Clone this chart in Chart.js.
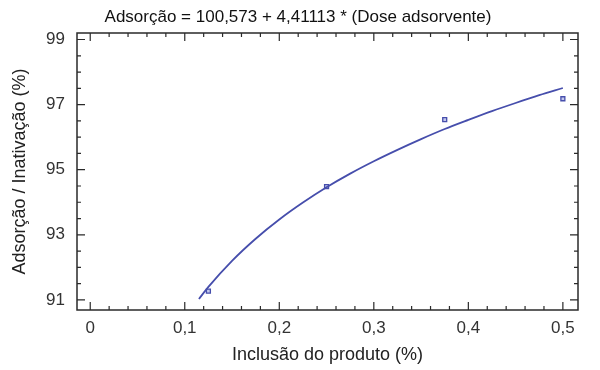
<!DOCTYPE html>
<html>
<head>
<meta charset="utf-8">
<script src="https://cdn.jsdelivr.net/npm/chart.js@4"></script>
<style>
  html, body { margin: 0; padding: 0; background: #fff; }
  #wrap { width: 600px; height: 370px; }
</style>
</head>
<body>
<div id="wrap"><canvas id="chart" width="600" height="370"></canvas></div>
<script>
// measured points (inclusion %, adsorption %)
const pointX = [0.125, 0.25, 0.375, 0.5];
const pointY = [91.27, 94.48, 96.54, 97.18];

// fitted curve
const curveX = [0.115, 0.125, 0.15, 0.175, 0.2, 0.225, 0.25, 0.275, 0.3, 0.325, 0.35, 0.375, 0.4, 0.425, 0.45, 0.475, 0.5];
const curveY = [91.03, 91.40, 92.20, 92.88, 93.47, 93.99, 94.46, 94.88, 95.26, 95.61, 95.94, 96.25, 96.53, 96.80, 97.05, 97.29, 97.51];

const xTicks = [0, 0.1, 0.2, 0.3, 0.4, 0.5];
const xTickLabels = ["0", "0,1", "0,2", "0,3", "0,4", "0,5"];
const yTicks = [91, 93, 95, 97, 99];
const yTickLabels = ["91", "93", "95", "97", "99"];
const xMinor = [0.02, 0.04, 0.06, 0.08, 0.12, 0.14, 0.16, 0.18, 0.22, 0.24, 0.26, 0.28, 0.32, 0.34, 0.36, 0.38, 0.42, 0.44, 0.46, 0.48];
const yMinor = [91.5, 92, 92.5, 93.5, 94, 94.5, 95.5, 96, 96.5, 97.5, 98, 98.5];

const titleText = "Adsorção = 100,573 + 4,41113 * (Dose adsorvente)";
const FONT = "'Liberation Sans', Arial, sans-serif";
const BLUE = "rgb(70, 78, 172)";
const AXIS = "#2a2a2a";

// box frame + inward ticks on all four sides, and the equation title
const framePlugin = {
  id: "frame",
  afterDraw(chart) {
    const ctx = chart.ctx;
    const a = chart.chartArea;
    const xs = chart.scales.x;
    const ys = chart.scales.y;
    ctx.save();
    ctx.strokeStyle = AXIS;
    ctx.lineWidth = 1.5;
    ctx.strokeRect(a.left, a.top, a.right - a.left, a.bottom - a.top);
    ctx.lineWidth = 1.2;
    ctx.beginPath();
    const tickX = (v, len) => {
      const px = xs.getPixelForValue(v);
      ctx.moveTo(px, a.bottom); ctx.lineTo(px, a.bottom - len);
      ctx.moveTo(px, a.top); ctx.lineTo(px, a.top + len);
    };
    const tickY = (v, len) => {
      const py = ys.getPixelForValue(v);
      ctx.moveTo(a.left, py); ctx.lineTo(a.left + len, py);
      ctx.moveTo(a.right, py); ctx.lineTo(a.right - len, py);
    };
    xTicks.forEach((v) => tickX(v, 8));
    xMinor.forEach((v) => tickX(v, 4));
    yTicks.forEach((v) => tickY(v, 8));
    yMinor.forEach((v) => tickY(v, 4));
    ctx.stroke();

    ctx.fillStyle = "#111";
    ctx.font = "17px " + FONT;
    ctx.textAlign = "center";
    ctx.textBaseline = "middle";
    ctx.fillText(titleText, 298, 17);
    ctx.restore();
  }
};

new Chart(document.getElementById("chart"), {
  type: "scatter",
  data: {
    datasets: [
      {
        label: "ajuste",
        type: "line",
        data: curveX.map((x, i) => ({ x, y: curveY[i] })),
        borderColor: BLUE,
        borderWidth: 1.8,
        pointRadius: 0,
        cubicInterpolationMode: "monotone",
        fill: false
      },
      {
        label: "dados",
        data: pointX.map((x, i) => ({ x, y: pointY[i] })),
        pointStyle: "rect",
        pointRadius: 2.8,
        borderWidth: 1.3,
        borderColor: BLUE,
        backgroundColor: "rgb(196, 200, 236)"
      }
    ]
  },
  options: {
    responsive: false,
    animation: false,
    layout: { padding: { left: 0, right: 22, top: 33, bottom: 0 } },
    plugins: {
      legend: { display: false },
      tooltip: { enabled: false },
      title: { display: false }
    },
    scales: {
      x: {
        type: "linear",
        min: -0.014,
        max: 0.516,
        grid: { display: false, drawTicks: false },
        border: { display: false },
        afterBuildTicks: (s) => { s.ticks = xTicks.map((v) => ({ value: v })); },
        afterFit: (s) => { s.height = 60; },
        ticks: {
          color: "#333",
          font: { family: FONT, size: 17 },
          padding: 8,
          maxRotation: 0,
          callback: (v) => xTickLabels[xTicks.indexOf(v)]
        },
        title: {
          display: true,
          text: "Inclusão do produto (%)",
          color: "#222",
          font: { family: FONT, size: 18 },
          padding: { top: 2, bottom: 4 }
        }
      },
      y: {
        type: "linear",
        min: 90.69,
        max: 99.2,
        grid: { display: false, drawTicks: false },
        border: { display: false },
        afterBuildTicks: (s) => { s.ticks = yTicks.map((v) => ({ value: v })); },
        afterFit: (s) => { s.width = 77; },
        ticks: {
          color: "#333",
          font: { family: FONT, size: 17 },
          padding: 12,
          callback: (v) => yTickLabels[yTicks.indexOf(v)]
        },
        title: {
          display: true,
          text: "Adsorção / Inativação (%)",
          color: "#222",
          font: { family: FONT, size: 18 },
          padding: { top: 9, bottom: 0 }
        }
      }
    }
  },
  plugins: [framePlugin]
});
</script>
</body>
</html>
